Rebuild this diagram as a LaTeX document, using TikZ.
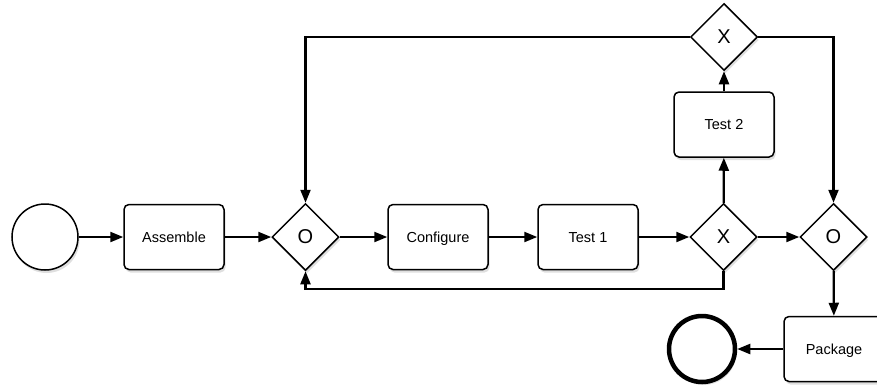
\documentclass[tikz,border=0pt]{standalone}
\usepackage{fontspec}
\setmainfont{Liberation Sans}
\usetikzlibrary{shapes.geometric, arrows.meta, shadows}

\tikzset{
  flow/.style={line width=2.2pt, ->},
  soft/.style={drop shadow={opacity=.25, shadow xshift=1.5pt, shadow yshift=-3pt}},
  task/.style={draw, line width=1.5pt, rounded corners=5pt, fill=white, soft,
    minimum width=100pt, minimum height=65pt, text height=10.4pt, text depth=0pt,
    font=\fontsize{14.5}{17}\selectfont},
  gate/.style={draw, diamond, aspect=1, line width=1.5pt, fill=white, soft,
    minimum width=67pt, minimum height=67pt, inner sep=0pt, font=\fontsize{20}{23}\selectfont},
  event/.style={draw, circle, line width=1.5pt, fill=white, soft, minimum size=66pt, inner sep=0pt}
}

\begin{document}
\begin{tikzpicture}[x=1pt, y=-1pt, >={Triangle[length=13pt,width=10pt]}]
  \useasboundingbox (0,0) rectangle (877,389);

  \node[event] (start) at (45,237) {};
  \node[task] (assemble) at (174,237) {Assemble};
  \node[gate] (or1) at (305.5,237) {O};
  \node[task] (configure) at (438,237) {Configure};
  \node[task] (test1) at (588,237) {Test 1};
  \node[gate] (xor1) at (723.5,237) {X};
  \node[gate] (or2) at (833.5,237) {O};
  \node[task] (test2) at (724,124.5) {Test 2};
  \node[gate] (xor2) at (724,37) {X};
  \node[task] (package) at (834,349) {Package};
  \node[event, line width=4.5pt] (end) at (702,349) {};

  \draw[flow] (start) -- (assemble);
  \draw[flow] (assemble) -- (or1);
  \draw[flow] (or1) -- (configure);
  \draw[flow] (configure) -- (test1);
  \draw[flow] (test1) -- (xor1);
  \draw[flow] (xor1) -- (or2);
  \draw[flow] (xor1) -- (test2);
  \draw[flow] (test2) -- (xor2);
  \draw[flow] (xor2.west) -| (or1.north);
  \draw[flow] (xor2.east) -| (or2.north);
  \draw[flow] (xor1.south) -- ++(0,18) -| (or1.south);
  \draw[flow] (or2) -- (package);
  \draw[flow] (package) -- (end);
\end{tikzpicture}
\end{document}
